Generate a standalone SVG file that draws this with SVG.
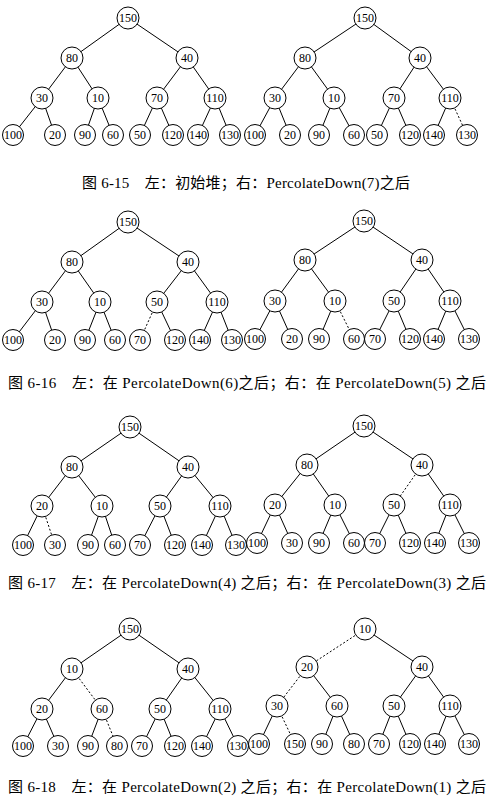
<svg xmlns="http://www.w3.org/2000/svg" width="497" height="804" viewBox="0 0 497 804">
<style>
.e{stroke:#000;stroke-width:1;fill:none}
.d{stroke-dasharray:2 2}
.n circle{fill:#fff;stroke:#000;stroke-width:1}
.n text{font-family:"Liberation Serif","Times New Roman",serif;font-size:12px;text-anchor:middle;fill:#000}
.cap{font-family:"Liberation Serif","Noto Sans CJK SC",serif;font-size:15px;fill:#000}
</style>
<rect width="497" height="804" fill="#fff"/>
<g id="connectors">
<!-- fig 6-15 left -->
<line class="e" x1="128" y1="18" x2="72" y2="58"/><line class="e" x1="128" y1="18" x2="187" y2="58"/>
<line class="e" x1="72" y1="58" x2="42" y2="98"/><line class="e" x1="72" y1="58" x2="98" y2="98"/>
<line class="e" x1="187" y1="58" x2="157" y2="98"/><line class="e" x1="187" y1="58" x2="215" y2="98"/>
<line class="e" x1="42" y1="98" x2="13" y2="135"/><line class="e" x1="42" y1="98" x2="55" y2="135"/>
<line class="e" x1="98" y1="98" x2="85" y2="135"/><line class="e" x1="98" y1="98" x2="113" y2="135"/>
<line class="e" x1="157" y1="98" x2="140" y2="135"/><line class="e" x1="157" y1="98" x2="173" y2="135"/>
<line class="e" x1="215" y1="98" x2="198" y2="135"/><line class="e" x1="215" y1="98" x2="230" y2="135"/>
<!-- fig 6-15 right -->
<line class="e" x1="365" y1="18" x2="305" y2="58"/><line class="e" x1="365" y1="18" x2="420" y2="58"/>
<line class="e" x1="305" y1="58" x2="275" y2="98"/><line class="e" x1="305" y1="58" x2="334" y2="98"/>
<line class="e" x1="420" y1="58" x2="394" y2="98"/><line class="e" x1="420" y1="58" x2="450" y2="98"/>
<line class="e" x1="275" y1="98" x2="255" y2="135"/><line class="e" x1="275" y1="98" x2="290" y2="135"/>
<line class="e" x1="334" y1="98" x2="319" y2="135"/><line class="e" x1="334" y1="98" x2="354" y2="135"/>
<line class="e" x1="394" y1="98" x2="377" y2="135"/><line class="e" x1="394" y1="98" x2="410" y2="135"/>
<line class="e" x1="450" y1="98" x2="434" y2="135"/><line class="e d" x1="450" y1="98" x2="467" y2="135"/>
<!-- fig 6-16 left -->
<line class="e" x1="128" y1="222" x2="72" y2="262"/><line class="e" x1="128" y1="222" x2="188" y2="262"/>
<line class="e" x1="72" y1="262" x2="42" y2="302"/><line class="e" x1="72" y1="262" x2="100" y2="302"/>
<line class="e" x1="188" y1="262" x2="157" y2="302"/><line class="e" x1="188" y1="262" x2="217" y2="302"/>
<line class="e" x1="42" y1="302" x2="13" y2="340"/><line class="e" x1="42" y1="302" x2="55" y2="340"/>
<line class="e" x1="100" y1="302" x2="85" y2="340"/><line class="e" x1="100" y1="302" x2="115" y2="340"/>
<line class="e d" x1="157" y1="302" x2="140" y2="340"/><line class="e" x1="157" y1="302" x2="175" y2="340"/>
<line class="e" x1="217" y1="302" x2="200" y2="340"/><line class="e" x1="217" y1="302" x2="232" y2="340"/>
<!-- fig 6-16 right -->
<line class="e" x1="364" y1="221" x2="305" y2="260"/><line class="e" x1="364" y1="221" x2="422" y2="260"/>
<line class="e" x1="305" y1="260" x2="275" y2="301"/><line class="e" x1="305" y1="260" x2="335" y2="301"/>
<line class="e" x1="422" y1="260" x2="394" y2="301"/><line class="e" x1="422" y1="260" x2="450" y2="301"/>
<line class="e" x1="275" y1="301" x2="255" y2="339"/><line class="e" x1="275" y1="301" x2="292" y2="339"/>
<line class="e" x1="335" y1="301" x2="319" y2="339"/><line class="e d" x1="335" y1="301" x2="354" y2="339"/>
<line class="e" x1="394" y1="301" x2="375" y2="339"/><line class="e" x1="394" y1="301" x2="410" y2="339"/>
<line class="e" x1="450" y1="301" x2="434" y2="339"/><line class="e" x1="450" y1="301" x2="469" y2="339"/>
<!-- fig 6-17 left -->
<line class="e" x1="130" y1="427" x2="72" y2="467"/><line class="e" x1="130" y1="427" x2="188" y2="467"/>
<line class="e" x1="72" y1="467" x2="42" y2="506"/><line class="e" x1="72" y1="467" x2="102" y2="506"/>
<line class="e" x1="188" y1="467" x2="160" y2="506"/><line class="e" x1="188" y1="467" x2="220" y2="506"/>
<line class="e" x1="42" y1="506" x2="23" y2="545"/><line class="e d" x1="42" y1="506" x2="55" y2="545"/>
<line class="e" x1="102" y1="506" x2="88" y2="545"/><line class="e" x1="102" y1="506" x2="115" y2="545"/>
<line class="e" x1="160" y1="506" x2="140" y2="545"/><line class="e" x1="160" y1="506" x2="175" y2="545"/>
<line class="e" x1="220" y1="506" x2="202" y2="545"/><line class="e" x1="220" y1="506" x2="236" y2="545"/>
<!-- fig 6-17 right -->
<line class="e" x1="364" y1="426" x2="307" y2="465"/><line class="e" x1="364" y1="426" x2="422" y2="465"/>
<line class="e" x1="307" y1="465" x2="275" y2="505"/><line class="e" x1="307" y1="465" x2="335" y2="505"/>
<line class="e d" x1="422" y1="465" x2="394" y2="505"/><line class="e" x1="422" y1="465" x2="450" y2="505"/>
<line class="e" x1="275" y1="505" x2="257" y2="543"/><line class="e" x1="275" y1="505" x2="292" y2="543"/>
<line class="e" x1="335" y1="505" x2="319" y2="543"/><line class="e" x1="335" y1="505" x2="354" y2="543"/>
<line class="e" x1="394" y1="505" x2="375" y2="543"/><line class="e" x1="394" y1="505" x2="410" y2="543"/>
<line class="e" x1="450" y1="505" x2="435" y2="543"/><line class="e" x1="450" y1="505" x2="469" y2="543"/>
<!-- fig 6-18 left -->
<line class="e" x1="130" y1="629" x2="72" y2="669"/><line class="e" x1="130" y1="629" x2="188" y2="669"/>
<line class="e" x1="72" y1="669" x2="42" y2="709"/><line class="e d" x1="72" y1="669" x2="102" y2="709"/>
<line class="e" x1="188" y1="669" x2="160" y2="709"/><line class="e" x1="188" y1="669" x2="220" y2="709"/>
<line class="e" x1="42" y1="709" x2="23" y2="746"/><line class="e" x1="42" y1="709" x2="58" y2="746"/>
<line class="e" x1="102" y1="709" x2="88" y2="746"/><line class="e d" x1="102" y1="709" x2="117" y2="746"/>
<line class="e" x1="160" y1="709" x2="142" y2="746"/><line class="e" x1="160" y1="709" x2="175" y2="746"/>
<line class="e" x1="220" y1="709" x2="202" y2="746"/><line class="e" x1="220" y1="709" x2="238" y2="746"/>
<!-- fig 6-18 right -->
<line class="e d" x1="365" y1="629" x2="307" y2="667"/><line class="e" x1="365" y1="629" x2="422" y2="667"/>
<line class="e d" x1="307" y1="667" x2="277" y2="706"/><line class="e" x1="307" y1="667" x2="337" y2="706"/>
<line class="e" x1="422" y1="667" x2="394" y2="706"/><line class="e" x1="422" y1="667" x2="450" y2="706"/>
<line class="e" x1="277" y1="706" x2="259" y2="744"/><line class="e d" x1="277" y1="706" x2="295" y2="744"/>
<line class="e" x1="337" y1="706" x2="322" y2="744"/><line class="e" x1="337" y1="706" x2="354" y2="744"/>
<line class="e" x1="394" y1="706" x2="379" y2="744"/><line class="e" x1="394" y1="706" x2="410" y2="744"/>
<line class="e" x1="450" y1="706" x2="435" y2="744"/><line class="e" x1="450" y1="706" x2="469" y2="744"/>
</g>

<!-- fig 6-15 left nodes -->
<g id="f15L-0" class="n"><circle cx="128" cy="18" r="11"/><text x="128" y="22">150</text></g>
<g id="f15L-1" class="n"><circle cx="72" cy="58" r="11"/><text x="72" y="62">80</text></g>
<g id="f15L-2" class="n"><circle cx="187" cy="58" r="11"/><text x="187" y="62">40</text></g>
<g id="f15L-3" class="n"><circle cx="42" cy="98" r="11"/><text x="42" y="102">30</text></g>
<g id="f15L-4" class="n"><circle cx="98" cy="98" r="11"/><text x="98" y="102">10</text></g>
<g id="f15L-5" class="n"><circle cx="157" cy="98" r="11"/><text x="157" y="102">70</text></g>
<g id="f15L-6" class="n"><circle cx="215" cy="98" r="11"/><text x="215" y="102">110</text></g>
<g id="f15L-7" class="n"><circle cx="13" cy="135" r="10.5"/><text x="13" y="139">100</text></g>
<g id="f15L-8" class="n"><circle cx="55" cy="135" r="10.5"/><text x="55" y="139">20</text></g>
<g id="f15L-9" class="n"><circle cx="85" cy="135" r="10.5"/><text x="85" y="139">90</text></g>
<g id="f15L-10" class="n"><circle cx="113" cy="135" r="10.5"/><text x="113" y="139">60</text></g>
<g id="f15L-11" class="n"><circle cx="140" cy="135" r="10.5"/><text x="140" y="139">50</text></g>
<g id="f15L-12" class="n"><circle cx="173" cy="135" r="10.5"/><text x="173" y="139">120</text></g>
<g id="f15L-13" class="n"><circle cx="198" cy="135" r="10.5"/><text x="198" y="139">140</text></g>
<g id="f15L-14" class="n"><circle cx="230" cy="135" r="10.5"/><text x="230" y="139">130</text></g>
<!-- fig 6-15 right nodes -->
<g id="f15R-0" class="n"><circle cx="365" cy="18" r="11"/><text x="365" y="22">150</text></g>
<g id="f15R-1" class="n"><circle cx="305" cy="58" r="11"/><text x="305" y="62">80</text></g>
<g id="f15R-2" class="n"><circle cx="420" cy="58" r="11"/><text x="420" y="62">40</text></g>
<g id="f15R-3" class="n"><circle cx="275" cy="98" r="11"/><text x="275" y="102">30</text></g>
<g id="f15R-4" class="n"><circle cx="334" cy="98" r="11"/><text x="334" y="102">10</text></g>
<g id="f15R-5" class="n"><circle cx="394" cy="98" r="11"/><text x="394" y="102">70</text></g>
<g id="f15R-6" class="n"><circle cx="450" cy="98" r="11"/><text x="450" y="102">110</text></g>
<g id="f15R-7" class="n"><circle cx="255" cy="135" r="10.5"/><text x="255" y="139">100</text></g>
<g id="f15R-8" class="n"><circle cx="290" cy="135" r="10.5"/><text x="290" y="139">20</text></g>
<g id="f15R-9" class="n"><circle cx="319" cy="135" r="10.5"/><text x="319" y="139">90</text></g>
<g id="f15R-10" class="n"><circle cx="354" cy="135" r="10.5"/><text x="354" y="139">60</text></g>
<g id="f15R-11" class="n"><circle cx="377" cy="135" r="10.5"/><text x="377" y="139">50</text></g>
<g id="f15R-12" class="n"><circle cx="410" cy="135" r="10.5"/><text x="410" y="139">120</text></g>
<g id="f15R-13" class="n"><circle cx="434" cy="135" r="10.5"/><text x="434" y="139">140</text></g>
<g id="f15R-14" class="n"><circle cx="467" cy="135" r="10.5"/><text x="467" y="139">130</text></g>

<!-- fig 6-16 left nodes -->
<g id="f16L-0" class="n"><circle cx="128" cy="222" r="11"/><text x="128" y="226">150</text></g>
<g id="f16L-1" class="n"><circle cx="72" cy="262" r="11"/><text x="72" y="266">80</text></g>
<g id="f16L-2" class="n"><circle cx="188" cy="262" r="11"/><text x="188" y="266">40</text></g>
<g id="f16L-3" class="n"><circle cx="42" cy="302" r="11"/><text x="42" y="306">30</text></g>
<g id="f16L-4" class="n"><circle cx="100" cy="302" r="11"/><text x="100" y="306">10</text></g>
<g id="f16L-5" class="n"><circle cx="157" cy="302" r="11"/><text x="157" y="306">50</text></g>
<g id="f16L-6" class="n"><circle cx="217" cy="302" r="11"/><text x="217" y="306">110</text></g>
<g id="f16L-7" class="n"><circle cx="13" cy="340" r="10.5"/><text x="13" y="344">100</text></g>
<g id="f16L-8" class="n"><circle cx="55" cy="340" r="10.5"/><text x="55" y="344">20</text></g>
<g id="f16L-9" class="n"><circle cx="85" cy="340" r="10.5"/><text x="85" y="344">90</text></g>
<g id="f16L-10" class="n"><circle cx="115" cy="340" r="10.5"/><text x="115" y="344">60</text></g>
<g id="f16L-11" class="n"><circle cx="140" cy="340" r="10.5"/><text x="140" y="344">70</text></g>
<g id="f16L-12" class="n"><circle cx="175" cy="340" r="10.5"/><text x="175" y="344">120</text></g>
<g id="f16L-13" class="n"><circle cx="200" cy="340" r="10.5"/><text x="200" y="344">140</text></g>
<g id="f16L-14" class="n"><circle cx="232" cy="340" r="10.5"/><text x="232" y="344">130</text></g>
<!-- fig 6-16 right nodes -->
<g id="f16R-0" class="n"><circle cx="364" cy="221" r="11"/><text x="364" y="225">150</text></g>
<g id="f16R-1" class="n"><circle cx="305" cy="260" r="11"/><text x="305" y="264">80</text></g>
<g id="f16R-2" class="n"><circle cx="422" cy="260" r="11"/><text x="422" y="264">40</text></g>
<g id="f16R-3" class="n"><circle cx="275" cy="301" r="11"/><text x="275" y="305">30</text></g>
<g id="f16R-4" class="n"><circle cx="335" cy="301" r="11"/><text x="335" y="305">10</text></g>
<g id="f16R-5" class="n"><circle cx="394" cy="301" r="11"/><text x="394" y="305">50</text></g>
<g id="f16R-6" class="n"><circle cx="450" cy="301" r="11"/><text x="450" y="305">110</text></g>
<g id="f16R-7" class="n"><circle cx="255" cy="339" r="10.5"/><text x="255" y="343">100</text></g>
<g id="f16R-8" class="n"><circle cx="292" cy="339" r="10.5"/><text x="292" y="343">20</text></g>
<g id="f16R-9" class="n"><circle cx="319" cy="339" r="10.5"/><text x="319" y="343">90</text></g>
<g id="f16R-10" class="n"><circle cx="354" cy="339" r="10.5"/><text x="354" y="343">60</text></g>
<g id="f16R-11" class="n"><circle cx="375" cy="339" r="10.5"/><text x="375" y="343">70</text></g>
<g id="f16R-12" class="n"><circle cx="410" cy="339" r="10.5"/><text x="410" y="343">120</text></g>
<g id="f16R-13" class="n"><circle cx="434" cy="339" r="10.5"/><text x="434" y="343">140</text></g>
<g id="f16R-14" class="n"><circle cx="469" cy="339" r="10.5"/><text x="469" y="343">130</text></g>

<!-- fig 6-17 left nodes -->
<g id="f17L-0" class="n"><circle cx="130" cy="427" r="11"/><text x="130" y="431">150</text></g>
<g id="f17L-1" class="n"><circle cx="72" cy="467" r="11"/><text x="72" y="471">80</text></g>
<g id="f17L-2" class="n"><circle cx="188" cy="467" r="11"/><text x="188" y="471">40</text></g>
<g id="f17L-3" class="n"><circle cx="42" cy="506" r="11"/><text x="42" y="510">20</text></g>
<g id="f17L-4" class="n"><circle cx="102" cy="506" r="11"/><text x="102" y="510">10</text></g>
<g id="f17L-5" class="n"><circle cx="160" cy="506" r="11"/><text x="160" y="510">50</text></g>
<g id="f17L-6" class="n"><circle cx="220" cy="506" r="11"/><text x="220" y="510">110</text></g>
<g id="f17L-7" class="n"><circle cx="23" cy="545" r="10.5"/><text x="23" y="549">100</text></g>
<g id="f17L-8" class="n"><circle cx="55" cy="545" r="10.5"/><text x="55" y="549">30</text></g>
<g id="f17L-9" class="n"><circle cx="88" cy="545" r="10.5"/><text x="88" y="549">90</text></g>
<g id="f17L-10" class="n"><circle cx="115" cy="545" r="10.5"/><text x="115" y="549">60</text></g>
<g id="f17L-11" class="n"><circle cx="140" cy="545" r="10.5"/><text x="140" y="549">70</text></g>
<g id="f17L-12" class="n"><circle cx="175" cy="545" r="10.5"/><text x="175" y="549">120</text></g>
<g id="f17L-13" class="n"><circle cx="202" cy="545" r="10.5"/><text x="202" y="549">140</text></g>
<g id="f17L-14" class="n"><circle cx="236" cy="545" r="10.5"/><text x="236" y="549">130</text></g>
<!-- fig 6-17 right nodes -->
<g id="f17R-0" class="n"><circle cx="364" cy="426" r="11"/><text x="364" y="430">150</text></g>
<g id="f17R-1" class="n"><circle cx="307" cy="465" r="11"/><text x="307" y="469">80</text></g>
<g id="f17R-2" class="n"><circle cx="422" cy="465" r="11"/><text x="422" y="469">40</text></g>
<g id="f17R-3" class="n"><circle cx="275" cy="505" r="11"/><text x="275" y="509">20</text></g>
<g id="f17R-4" class="n"><circle cx="335" cy="505" r="11"/><text x="335" y="509">10</text></g>
<g id="f17R-5" class="n"><circle cx="394" cy="505" r="11"/><text x="394" y="509">50</text></g>
<g id="f17R-6" class="n"><circle cx="450" cy="505" r="11"/><text x="450" y="509">110</text></g>
<g id="f17R-7" class="n"><circle cx="257" cy="543" r="10.5"/><text x="257" y="547">100</text></g>
<g id="f17R-8" class="n"><circle cx="292" cy="543" r="10.5"/><text x="292" y="547">30</text></g>
<g id="f17R-9" class="n"><circle cx="319" cy="543" r="10.5"/><text x="319" y="547">90</text></g>
<g id="f17R-10" class="n"><circle cx="354" cy="543" r="10.5"/><text x="354" y="547">60</text></g>
<g id="f17R-11" class="n"><circle cx="375" cy="543" r="10.5"/><text x="375" y="547">70</text></g>
<g id="f17R-12" class="n"><circle cx="410" cy="543" r="10.5"/><text x="410" y="547">120</text></g>
<g id="f17R-13" class="n"><circle cx="435" cy="543" r="10.5"/><text x="435" y="547">140</text></g>
<g id="f17R-14" class="n"><circle cx="469" cy="543" r="10.5"/><text x="469" y="547">130</text></g>

<!-- fig 6-18 left nodes -->
<g id="f18L-0" class="n"><circle cx="130" cy="629" r="11"/><text x="130" y="633">150</text></g>
<g id="f18L-1" class="n"><circle cx="72" cy="669" r="11"/><text x="72" y="673">10</text></g>
<g id="f18L-2" class="n"><circle cx="188" cy="669" r="11"/><text x="188" y="673">40</text></g>
<g id="f18L-3" class="n"><circle cx="42" cy="709" r="11"/><text x="42" y="713">20</text></g>
<g id="f18L-4" class="n"><circle cx="102" cy="709" r="11"/><text x="102" y="713">60</text></g>
<g id="f18L-5" class="n"><circle cx="160" cy="709" r="11"/><text x="160" y="713">50</text></g>
<g id="f18L-6" class="n"><circle cx="220" cy="709" r="11"/><text x="220" y="713">110</text></g>
<g id="f18L-7" class="n"><circle cx="23" cy="746" r="10.5"/><text x="23" y="750">100</text></g>
<g id="f18L-8" class="n"><circle cx="58" cy="746" r="10.5"/><text x="58" y="750">30</text></g>
<g id="f18L-9" class="n"><circle cx="88" cy="746" r="10.5"/><text x="88" y="750">90</text></g>
<g id="f18L-10" class="n"><circle cx="117" cy="746" r="10.5"/><text x="117" y="750">80</text></g>
<g id="f18L-11" class="n"><circle cx="142" cy="746" r="10.5"/><text x="142" y="750">70</text></g>
<g id="f18L-12" class="n"><circle cx="175" cy="746" r="10.5"/><text x="175" y="750">120</text></g>
<g id="f18L-13" class="n"><circle cx="202" cy="746" r="10.5"/><text x="202" y="750">140</text></g>
<g id="f18L-14" class="n"><circle cx="238" cy="746" r="10.5"/><text x="238" y="750">130</text></g>
<!-- fig 6-18 right nodes -->
<g id="f18R-0" class="n"><circle cx="365" cy="629" r="11"/><text x="365" y="633">10</text></g>
<g id="f18R-1" class="n"><circle cx="307" cy="667" r="11"/><text x="307" y="671">20</text></g>
<g id="f18R-2" class="n"><circle cx="422" cy="667" r="11"/><text x="422" y="671">40</text></g>
<g id="f18R-3" class="n"><circle cx="277" cy="706" r="11"/><text x="277" y="710">30</text></g>
<g id="f18R-4" class="n"><circle cx="337" cy="706" r="11"/><text x="337" y="710">60</text></g>
<g id="f18R-5" class="n"><circle cx="394" cy="706" r="11"/><text x="394" y="710">50</text></g>
<g id="f18R-6" class="n"><circle cx="450" cy="706" r="11"/><text x="450" y="710">110</text></g>
<g id="f18R-7" class="n"><circle cx="259" cy="744" r="10.5"/><text x="259" y="748">100</text></g>
<g id="f18R-8" class="n"><circle cx="295" cy="744" r="10.5"/><text x="295" y="748">150</text></g>
<g id="f18R-9" class="n"><circle cx="322" cy="744" r="10.5"/><text x="322" y="748">90</text></g>
<g id="f18R-10" class="n"><circle cx="354" cy="744" r="10.5"/><text x="354" y="748">80</text></g>
<g id="f18R-11" class="n"><circle cx="379" cy="744" r="10.5"/><text x="379" y="748">70</text></g>
<g id="f18R-12" class="n"><circle cx="410" cy="744" r="10.5"/><text x="410" y="748">120</text></g>
<g id="f18R-13" class="n"><circle cx="435" cy="744" r="10.5"/><text x="435" y="748">140</text></g>
<g id="f18R-14" class="n"><circle cx="469" cy="744" r="10.5"/><text x="469" y="748">130</text></g>

<g id="captions">
<text class="cap" x="82" y="188" textLength="328" lengthAdjust="spacing">图 6-15　左：初始堆；右：PercolateDown(7)之后</text>
<text class="cap" x="8" y="388" textLength="478" lengthAdjust="spacing">图 6-16　左：在 PercolateDown(6)之后；右：在 PercolateDown(5) 之后</text>
<text class="cap" x="8" y="588" textLength="478" lengthAdjust="spacing">图 6-17　左：在 PercolateDown(4) 之后；右：在 PercolateDown(3) 之后</text>
<text class="cap" x="8" y="792" textLength="478" lengthAdjust="spacing">图 6-18　左：在 PercolateDown(2) 之后；右：在 PercolateDown(1) 之后</text>
</g>
</svg>
